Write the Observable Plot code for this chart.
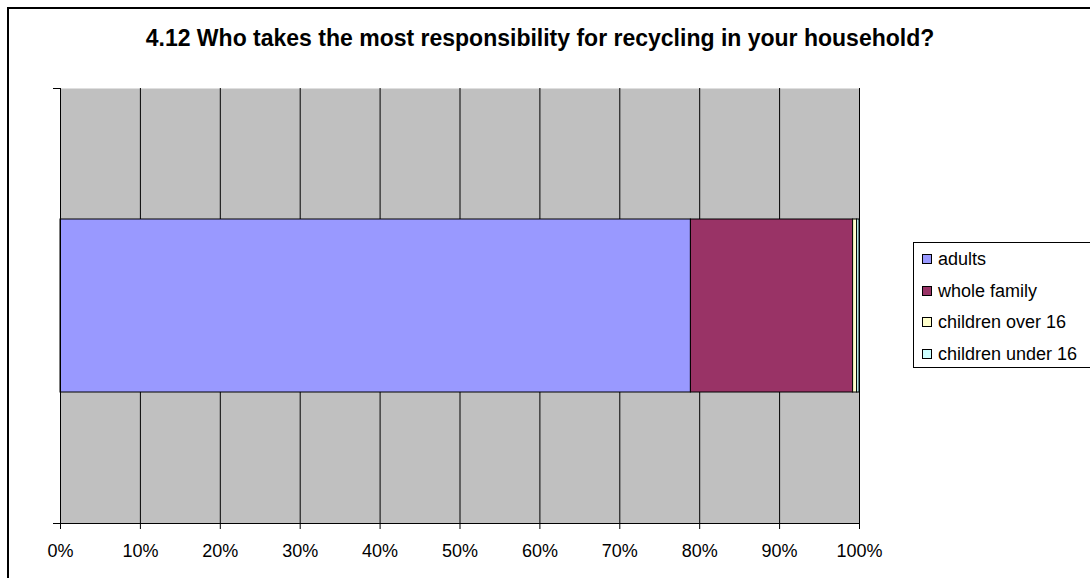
<!DOCTYPE html>
<html>
<head>
<meta charset="utf-8">
<script src="https://cdn.jsdelivr.net/npm/d3@7"></script>
<script src="https://cdn.jsdelivr.net/npm/@observablehq/plot@0.6"></script>
<style>
  html, body { margin: 0; padding: 0; background: #fff; overflow: hidden; }
  #wrap { position: relative; width: 1090px; height: 578px; overflow: hidden; font-family: "Liberation Sans", Arial, sans-serif; }
  #border { position: absolute; left: 7px; top: 7px; width: 1200px; height: 700px; border-left: 2px solid #000; border-top: 2px solid #000; box-sizing: border-box; }
  #title { position: absolute; left: 0; width: 1080px; top: 25px; text-align: center; font-weight: bold; font-size: 23px; color: #000; white-space: nowrap; }
  #chart { position: absolute; left: 0; top: 0; }
  #legend { position: absolute; left: 913px; top: 242px; width: 300px; height: 126px; border: 1px solid #000; box-sizing: border-box; background: #fff; }
  .item { position: absolute; left: 8px; height: 20px; font-size: 18px; line-height: 20px; white-space: nowrap; color: #000; }
  .sw { display: inline-block; width: 8px; height: 8px; border: 1px solid #000; margin-right: 6px; vertical-align: 1px; }
</style>
</head>
<body>
<div id="wrap">
  <div id="border"></div>
  <div id="title"></div>
  <div id="chart"></div>
  <div id="legend"></div>
</div>
<script>
const titleText = "4.12 Who takes the most responsibility for recycling in your household?";
const categories = ["adults", "whole family", "children over 16", "children under 16"];
const values = [78.9, 20.3, 0.5, 0.3];
const colors = ["#9999FF", "#993366", "#FFFFCC", "#CCFFFF"];
const question = ["Q4.12"];
const xTicks = [0, 10, 20, 30, 40, 50, 60, 70, 80, 90, 100];

document.getElementById("title").textContent = titleText;

const data = categories.map((c, i) => ({ q: question[0], category: c, value: values[i] }));

const chart = Plot.plot({
  width: 1090,
  height: 578,
  marginLeft: 60,
  marginRight: 231,
  marginTop: 88,
  marginBottom: 55,
  style: { fontFamily: "'Liberation Sans', Arial, sans-serif", fontSize: "18px", color: "#000", background: "transparent" },
  x: { domain: [0, 100] },
  y: { domain: question, padding: 0.43, axis: null },
  color: { domain: categories, range: colors },
  marks: [
    Plot.frame({ fill: "#C0C0C0", stroke: null }),
    Plot.ruleX(xTicks, { stroke: "#000", strokeWidth: 1 }),
    Plot.barX(data, Plot.stackX({ x: "value", y: "q", fill: "category", stroke: "#000", strokeWidth: 1, inset: 0 })),
    Plot.axisX({ ticks: xTicks, tickFormat: d => d + "%", tickSize: 6, tickPadding: 15, fontSize: 18, label: null, stroke: "#000" })
  ]
});
document.getElementById("chart").appendChild(chart);

// axis lines and category boundary ticks
const svg = d3.select(chart);
const xs = chart.scale("x");
const [y0, y1] = [88, 578 - 55];
svg.append("line").attr("x1", 53).attr("x2", xs.apply(100)).attr("y1", y1 + 0.5).attr("y2", y1 + 0.5).attr("stroke", "#000");
svg.append("line").attr("x1", xs.apply(0) + 0.5).attr("x2", xs.apply(0) + 0.5).attr("y1", y0).attr("y2", y1).attr("stroke", "#000");
svg.append("line").attr("x1", 53).attr("x2", xs.apply(0)).attr("y1", y0 + 0.5).attr("y2", y0 + 0.5).attr("stroke", "#000");

// legend
const legend = document.getElementById("legend");
categories.forEach((c, i) => {
  const d = document.createElement("div");
  d.className = "item";
  d.style.top = (6 + i * 31.5) + "px";
  const s = document.createElement("span");
  s.className = "sw";
  s.style.background = colors[i];
  d.appendChild(s);
  d.appendChild(document.createTextNode(c));
  legend.appendChild(d);
});
</script>
</body>
</html>
